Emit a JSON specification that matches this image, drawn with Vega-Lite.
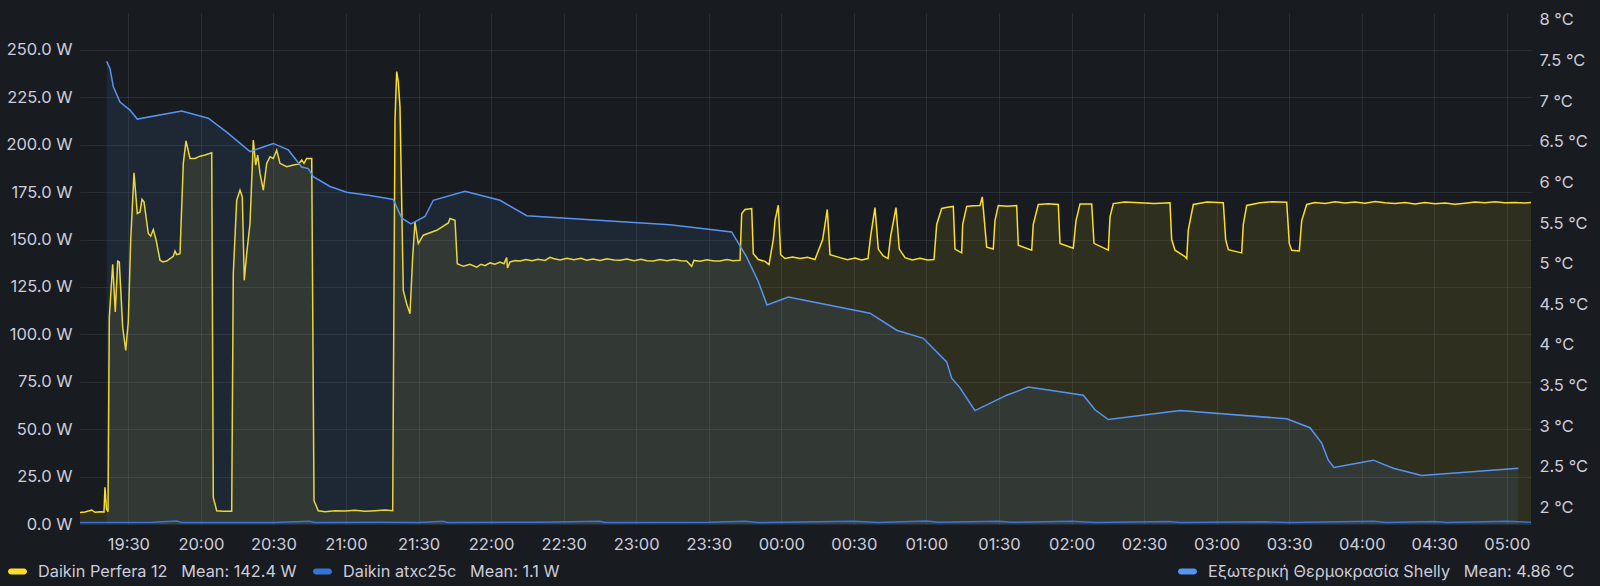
{
  "$schema": "https://vega.github.io/schema/vega-lite/v6.json",
  "width": 1451,
  "height": 511,
  "autosize": {"type": "none"},
  "padding": {"left": 80, "top": 13, "right": 69, "bottom": 62},
  "background": "#181b1f",
  "config": {
    "view": {"stroke": null},
    "font": "Inter",
    "axis": {"labelFont": "Inter", "labelFontSize": 16.5, "labelColor": "#ccccdc", "domain": false, "ticks": false, "tickSize": 0, "gridColor": "#ccccdc", "gridOpacity": 0.1, "title": null},
    "legend": {"labelFont": "Inter", "labelFontSize": 16.3, "labelColor": "#ccccdc", "padding": 0, "labelLimit": 600}
  },
  "datasets": {
    "power": [
      {"t": "2024-01-15T19:10:00Z", "s": "Daikin Perfera 12", "w": 6.1},
      {"t": "2024-01-15T19:12:04Z", "s": "Daikin Perfera 12", "w": 6.3},
      {"t": "2024-01-15T19:14:50Z", "s": "Daikin Perfera 12", "w": 7.4},
      {"t": "2024-01-15T19:16:12Z", "s": "Daikin Perfera 12", "w": 6.2},
      {"t": "2024-01-15T19:18:16Z", "s": "Daikin Perfera 12", "w": 6.4},
      {"t": "2024-01-15T19:19:55Z", "s": "Daikin Perfera 12", "w": 6.3},
      {"t": "2024-01-15T19:20:20Z", "s": "Daikin Perfera 12", "w": 19.3},
      {"t": "2024-01-15T19:20:57Z", "s": "Daikin Perfera 12", "w": 8},
      {"t": "2024-01-15T19:21:35Z", "s": "Daikin Perfera 12", "w": 6.5},
      {"t": "2024-01-15T19:22:07Z", "s": "Daikin Perfera 12", "w": 109},
      {"t": "2024-01-15T19:23:31Z", "s": "Daikin Perfera 12", "w": 137},
      {"t": "2024-01-15T19:24:36Z", "s": "Daikin Perfera 12", "w": 111.8},
      {"t": "2024-01-15T19:25:35Z", "s": "Daikin Perfera 12", "w": 138.6},
      {"t": "2024-01-15T19:26:15Z", "s": "Daikin Perfera 12", "w": 138.2},
      {"t": "2024-01-15T19:27:39Z", "s": "Daikin Perfera 12", "w": 103.9},
      {"t": "2024-01-15T19:28:54Z", "s": "Daikin Perfera 12", "w": 91.5},
      {"t": "2024-01-15T19:29:58Z", "s": "Daikin Perfera 12", "w": 106.5},
      {"t": "2024-01-15T19:30:58Z", "s": "Daikin Perfera 12", "w": 149.7},
      {"t": "2024-01-15T19:32:20Z", "s": "Daikin Perfera 12", "w": 185.2},
      {"t": "2024-01-15T19:33:42Z", "s": "Daikin Perfera 12", "w": 163.8},
      {"t": "2024-01-15T19:34:49Z", "s": "Daikin Perfera 12", "w": 164.6},
      {"t": "2024-01-15T19:35:38Z", "s": "Daikin Perfera 12", "w": 171.2},
      {"t": "2024-01-15T19:36:28Z", "s": "Daikin Perfera 12", "w": 169.9},
      {"t": "2024-01-15T19:38:15Z", "s": "Daikin Perfera 12", "w": 153.2},
      {"t": "2024-01-15T19:39:14Z", "s": "Daikin Perfera 12", "w": 151.8},
      {"t": "2024-01-15T19:40:19Z", "s": "Daikin Perfera 12", "w": 155.3},
      {"t": "2024-01-15T19:41:26Z", "s": "Daikin Perfera 12", "w": 150},
      {"t": "2024-01-15T19:43:05Z", "s": "Daikin Perfera 12", "w": 139.1},
      {"t": "2024-01-15T19:44:19Z", "s": "Daikin Perfera 12", "w": 138.2},
      {"t": "2024-01-15T19:45:51Z", "s": "Daikin Perfera 12", "w": 138.7},
      {"t": "2024-01-15T19:47:13Z", "s": "Daikin Perfera 12", "w": 140},
      {"t": "2024-01-15T19:48:35Z", "s": "Daikin Perfera 12", "w": 141.2},
      {"t": "2024-01-15T19:49:17Z", "s": "Daikin Perfera 12", "w": 144},
      {"t": "2024-01-15T19:49:59Z", "s": "Daikin Perfera 12", "w": 142.1},
      {"t": "2024-01-15T19:51:21Z", "s": "Daikin Perfera 12", "w": 142.6},
      {"t": "2024-01-15T19:52:43Z", "s": "Daikin Perfera 12", "w": 190.2},
      {"t": "2024-01-15T19:53:50Z", "s": "Daikin Perfera 12", "w": 202.1},
      {"t": "2024-01-15T19:55:29Z", "s": "Daikin Perfera 12", "w": 192.8},
      {"t": "2024-01-15T19:57:33Z", "s": "Daikin Perfera 12", "w": 192.8},
      {"t": "2024-01-15T19:59:37Z", "s": "Daikin Perfera 12", "w": 194},
      {"t": "2024-01-15T20:01:41Z", "s": "Daikin Perfera 12", "w": 194.6},
      {"t": "2024-01-15T20:04:28Z", "s": "Daikin Perfera 12", "w": 195.8},
      {"t": "2024-01-15T20:05:07Z", "s": "Daikin Perfera 12", "w": 14},
      {"t": "2024-01-15T20:06:32Z", "s": "Daikin Perfera 12", "w": 7},
      {"t": "2024-01-15T20:09:15Z", "s": "Daikin Perfera 12", "w": 6.7},
      {"t": "2024-01-15T20:12:44Z", "s": "Daikin Perfera 12", "w": 6.7},
      {"t": "2024-01-15T20:13:23Z", "s": "Daikin Perfera 12", "w": 132},
      {"t": "2024-01-15T20:14:48Z", "s": "Daikin Perfera 12", "w": 170.8},
      {"t": "2024-01-15T20:16:10Z", "s": "Daikin Perfera 12", "w": 176.1},
      {"t": "2024-01-15T20:17:07Z", "s": "Daikin Perfera 12", "w": 172.5},
      {"t": "2024-01-15T20:17:56Z", "s": "Daikin Perfera 12", "w": 128.5},
      {"t": "2024-01-15T20:18:56Z", "s": "Daikin Perfera 12", "w": 142.6},
      {"t": "2024-01-15T20:20:18Z", "s": "Daikin Perfera 12", "w": 158.5},
      {"t": "2024-01-15T20:21:40Z", "s": "Daikin Perfera 12", "w": 202.5},
      {"t": "2024-01-15T20:22:39Z", "s": "Daikin Perfera 12", "w": 189.3},
      {"t": "2024-01-15T20:23:29Z", "s": "Daikin Perfera 12", "w": 194.6},
      {"t": "2024-01-15T20:24:26Z", "s": "Daikin Perfera 12", "w": 184.9},
      {"t": "2024-01-15T20:25:48Z", "s": "Daikin Perfera 12", "w": 176.1},
      {"t": "2024-01-15T20:27:12Z", "s": "Daikin Perfera 12", "w": 190.2},
      {"t": "2024-01-15T20:28:34Z", "s": "Daikin Perfera 12", "w": 193.7},
      {"t": "2024-01-15T20:29:56Z", "s": "Daikin Perfera 12", "w": 192.8},
      {"t": "2024-01-15T20:31:20Z", "s": "Daikin Perfera 12", "w": 197.2},
      {"t": "2024-01-15T20:32:42Z", "s": "Daikin Perfera 12", "w": 190.2},
      {"t": "2024-01-15T20:35:28Z", "s": "Daikin Perfera 12", "w": 188.4},
      {"t": "2024-01-15T20:38:12Z", "s": "Daikin Perfera 12", "w": 189.3},
      {"t": "2024-01-15T20:40:16Z", "s": "Daikin Perfera 12", "w": 189.8},
      {"t": "2024-01-15T20:41:40Z", "s": "Daikin Perfera 12", "w": 192},
      {"t": "2024-01-15T20:42:37Z", "s": "Daikin Perfera 12", "w": 190.2},
      {"t": "2024-01-15T20:43:44Z", "s": "Daikin Perfera 12", "w": 192.8},
      {"t": "2024-01-15T20:45:49Z", "s": "Daikin Perfera 12", "w": 192.8},
      {"t": "2024-01-15T20:46:46Z", "s": "Daikin Perfera 12", "w": 12.3},
      {"t": "2024-01-15T20:48:32Z", "s": "Daikin Perfera 12", "w": 7},
      {"t": "2024-01-15T20:51:18Z", "s": "Daikin Perfera 12", "w": 6.5},
      {"t": "2024-01-15T20:55:27Z", "s": "Daikin Perfera 12", "w": 7},
      {"t": "2024-01-15T20:59:35Z", "s": "Daikin Perfera 12", "w": 6.8},
      {"t": "2024-01-15T21:03:43Z", "s": "Daikin Perfera 12", "w": 7.2},
      {"t": "2024-01-15T21:07:51Z", "s": "Daikin Perfera 12", "w": 6.7},
      {"t": "2024-01-15T21:11:59Z", "s": "Daikin Perfera 12", "w": 7},
      {"t": "2024-01-15T21:16:07Z", "s": "Daikin Perfera 12", "w": 7.4},
      {"t": "2024-01-15T21:19:18Z", "s": "Daikin Perfera 12", "w": 7},
      {"t": "2024-01-15T21:20:15Z", "s": "Daikin Perfera 12", "w": 213},
      {"t": "2024-01-15T21:20:57Z", "s": "Daikin Perfera 12", "w": 238.6},
      {"t": "2024-01-15T21:21:37Z", "s": "Daikin Perfera 12", "w": 233.3},
      {"t": "2024-01-15T21:22:19Z", "s": "Daikin Perfera 12", "w": 220},
      {"t": "2024-01-15T21:23:41Z", "s": "Daikin Perfera 12", "w": 123.2},
      {"t": "2024-01-15T21:25:05Z", "s": "Daikin Perfera 12", "w": 116.2},
      {"t": "2024-01-15T21:26:27Z", "s": "Daikin Perfera 12", "w": 110.9},
      {"t": "2024-01-15T21:27:34Z", "s": "Daikin Perfera 12", "w": 140.8},
      {"t": "2024-01-15T21:28:31Z", "s": "Daikin Perfera 12", "w": 159.3},
      {"t": "2024-01-15T21:29:53Z", "s": "Daikin Perfera 12", "w": 147.9},
      {"t": "2024-01-15T21:31:57Z", "s": "Daikin Perfera 12", "w": 152.3},
      {"t": "2024-01-15T21:37:30Z", "s": "Daikin Perfera 12", "w": 154.9},
      {"t": "2024-01-15T21:42:18Z", "s": "Daikin Perfera 12", "w": 158.8},
      {"t": "2024-01-15T21:43:00Z", "s": "Daikin Perfera 12", "w": 161.1},
      {"t": "2024-01-15T21:45:04Z", "s": "Daikin Perfera 12", "w": 160.2},
      {"t": "2024-01-15T21:46:01Z", "s": "Daikin Perfera 12", "w": 137.3},
      {"t": "2024-01-15T21:48:30Z", "s": "Daikin Perfera 12", "w": 135.9},
      {"t": "2024-01-15T21:51:16Z", "s": "Daikin Perfera 12", "w": 137},
      {"t": "2024-01-15T21:54:02Z", "s": "Daikin Perfera 12", "w": 135.5},
      {"t": "2024-01-15T21:55:49Z", "s": "Daikin Perfera 12", "w": 137},
      {"t": "2024-01-15T21:57:28Z", "s": "Daikin Perfera 12", "w": 136.2},
      {"t": "2024-01-15T21:59:32Z", "s": "Daikin Perfera 12", "w": 137.7},
      {"t": "2024-01-15T22:01:36Z", "s": "Daikin Perfera 12", "w": 137},
      {"t": "2024-01-15T22:03:40Z", "s": "Daikin Perfera 12", "w": 138.2},
      {"t": "2024-01-15T22:05:19Z", "s": "Daikin Perfera 12", "w": 137.3},
      {"t": "2024-01-15T22:06:26Z", "s": "Daikin Perfera 12", "w": 140.5},
      {"t": "2024-01-15T22:06:46Z", "s": "Daikin Perfera 12", "w": 135},
      {"t": "2024-01-15T22:07:48Z", "s": "Daikin Perfera 12", "w": 138.2},
      {"t": "2024-01-15T22:09:52Z", "s": "Daikin Perfera 12", "w": 138.9},
      {"t": "2024-01-15T22:11:57Z", "s": "Daikin Perfera 12", "w": 138.7},
      {"t": "2024-01-15T22:14:25Z", "s": "Daikin Perfera 12", "w": 139.5},
      {"t": "2024-01-15T22:16:54Z", "s": "Daikin Perfera 12", "w": 138.8},
      {"t": "2024-01-15T22:19:23Z", "s": "Daikin Perfera 12", "w": 139.6},
      {"t": "2024-01-15T22:22:17Z", "s": "Daikin Perfera 12", "w": 139},
      {"t": "2024-01-15T22:24:21Z", "s": "Daikin Perfera 12", "w": 140.6},
      {"t": "2024-01-15T22:25:43Z", "s": "Daikin Perfera 12", "w": 140},
      {"t": "2024-01-15T22:28:29Z", "s": "Daikin Perfera 12", "w": 139.3},
      {"t": "2024-01-15T22:31:22Z", "s": "Daikin Perfera 12", "w": 140.2},
      {"t": "2024-01-15T22:34:16Z", "s": "Daikin Perfera 12", "w": 139.4},
      {"t": "2024-01-15T22:37:10Z", "s": "Daikin Perfera 12", "w": 140.1},
      {"t": "2024-01-15T22:39:31Z", "s": "Daikin Perfera 12", "w": 139.1},
      {"t": "2024-01-15T22:42:08Z", "s": "Daikin Perfera 12", "w": 139.8},
      {"t": "2024-01-15T22:45:01Z", "s": "Daikin Perfera 12", "w": 139},
      {"t": "2024-01-15T22:47:55Z", "s": "Daikin Perfera 12", "w": 139.9},
      {"t": "2024-01-15T22:50:49Z", "s": "Daikin Perfera 12", "w": 139.2},
      {"t": "2024-01-15T22:53:17Z", "s": "Daikin Perfera 12", "w": 139.1},
      {"t": "2024-01-15T22:56:11Z", "s": "Daikin Perfera 12", "w": 139.8},
      {"t": "2024-01-15T22:59:05Z", "s": "Daikin Perfera 12", "w": 138.9},
      {"t": "2024-01-15T23:01:58Z", "s": "Daikin Perfera 12", "w": 139.6},
      {"t": "2024-01-15T23:04:27Z", "s": "Daikin Perfera 12", "w": 138.8},
      {"t": "2024-01-15T23:07:04Z", "s": "Daikin Perfera 12", "w": 138.7},
      {"t": "2024-01-15T23:09:50Z", "s": "Daikin Perfera 12", "w": 139.5},
      {"t": "2024-01-15T23:12:43Z", "s": "Daikin Perfera 12", "w": 138.9},
      {"t": "2024-01-15T23:15:37Z", "s": "Daikin Perfera 12", "w": 139.5},
      {"t": "2024-01-15T23:18:31Z", "s": "Daikin Perfera 12", "w": 138.8},
      {"t": "2024-01-15T23:20:52Z", "s": "Daikin Perfera 12", "w": 138.7},
      {"t": "2024-01-15T23:22:56Z", "s": "Daikin Perfera 12", "w": 135.9},
      {"t": "2024-01-15T23:23:53Z", "s": "Daikin Perfera 12", "w": 139},
      {"t": "2024-01-15T23:26:22Z", "s": "Daikin Perfera 12", "w": 138.6},
      {"t": "2024-01-15T23:29:16Z", "s": "Daikin Perfera 12", "w": 139.4},
      {"t": "2024-01-15T23:32:10Z", "s": "Daikin Perfera 12", "w": 138.7},
      {"t": "2024-01-15T23:34:38Z", "s": "Daikin Perfera 12", "w": 138.7},
      {"t": "2024-01-15T23:37:32Z", "s": "Daikin Perfera 12", "w": 139.5},
      {"t": "2024-01-15T23:40:01Z", "s": "Daikin Perfera 12", "w": 138.9},
      {"t": "2024-01-15T23:42:55Z", "s": "Daikin Perfera 12", "w": 139.1},
      {"t": "2024-01-15T23:43:37Z", "s": "Daikin Perfera 12", "w": 163.8},
      {"t": "2024-01-15T23:44:59Z", "s": "Daikin Perfera 12", "w": 165.9},
      {"t": "2024-01-15T23:47:45Z", "s": "Daikin Perfera 12", "w": 166.4},
      {"t": "2024-01-15T23:48:25Z", "s": "Daikin Perfera 12", "w": 142.6},
      {"t": "2024-01-15T23:50:29Z", "s": "Daikin Perfera 12", "w": 139.5},
      {"t": "2024-01-15T23:53:15Z", "s": "Daikin Perfera 12", "w": 138.5},
      {"t": "2024-01-15T23:54:54Z", "s": "Daikin Perfera 12", "w": 136.8},
      {"t": "2024-01-15T23:56:41Z", "s": "Daikin Perfera 12", "w": 150},
      {"t": "2024-01-15T23:57:23Z", "s": "Daikin Perfera 12", "w": 160},
      {"t": "2024-01-15T23:58:45Z", "s": "Daikin Perfera 12", "w": 168.1},
      {"t": "2024-01-15T23:59:44Z", "s": "Daikin Perfera 12", "w": 142},
      {"t": "2024-01-16T00:01:31Z", "s": "Daikin Perfera 12", "w": 140},
      {"t": "2024-01-16T00:04:40Z", "s": "Daikin Perfera 12", "w": 140.8},
      {"t": "2024-01-16T00:07:43Z", "s": "Daikin Perfera 12", "w": 140},
      {"t": "2024-01-16T00:10:50Z", "s": "Daikin Perfera 12", "w": 140.7},
      {"t": "2024-01-16T00:13:55Z", "s": "Daikin Perfera 12", "w": 139.5},
      {"t": "2024-01-16T00:17:06Z", "s": "Daikin Perfera 12", "w": 150},
      {"t": "2024-01-16T00:19:01Z", "s": "Daikin Perfera 12", "w": 165.9},
      {"t": "2024-01-16T00:20:08Z", "s": "Daikin Perfera 12", "w": 142},
      {"t": "2024-01-16T00:24:16Z", "s": "Daikin Perfera 12", "w": 140.5},
      {"t": "2024-01-16T00:27:20Z", "s": "Daikin Perfera 12", "w": 139.4},
      {"t": "2024-01-16T00:30:28Z", "s": "Daikin Perfera 12", "w": 140.3},
      {"t": "2024-01-16T00:33:10Z", "s": "Daikin Perfera 12", "w": 139.3},
      {"t": "2024-01-16T00:35:50Z", "s": "Daikin Perfera 12", "w": 140},
      {"t": "2024-01-16T00:36:57Z", "s": "Daikin Perfera 12", "w": 152},
      {"t": "2024-01-16T00:38:44Z", "s": "Daikin Perfera 12", "w": 166.9},
      {"t": "2024-01-16T00:40:06Z", "s": "Daikin Perfera 12", "w": 145},
      {"t": "2024-01-16T00:42:03Z", "s": "Daikin Perfera 12", "w": 141.5},
      {"t": "2024-01-16T00:44:07Z", "s": "Daikin Perfera 12", "w": 140},
      {"t": "2024-01-16T00:45:14Z", "s": "Daikin Perfera 12", "w": 152},
      {"t": "2024-01-16T00:47:25Z", "s": "Daikin Perfera 12", "w": 166.9},
      {"t": "2024-01-16T00:48:47Z", "s": "Daikin Perfera 12", "w": 145},
      {"t": "2024-01-16T00:51:09Z", "s": "Daikin Perfera 12", "w": 140.5},
      {"t": "2024-01-16T00:54:10Z", "s": "Daikin Perfera 12", "w": 139.2},
      {"t": "2024-01-16T00:57:21Z", "s": "Daikin Perfera 12", "w": 140.1},
      {"t": "2024-01-16T01:00:30Z", "s": "Daikin Perfera 12", "w": 139.2},
      {"t": "2024-01-16T01:03:08Z", "s": "Daikin Perfera 12", "w": 139.5},
      {"t": "2024-01-16T01:04:15Z", "s": "Daikin Perfera 12", "w": 158},
      {"t": "2024-01-16T01:06:19Z", "s": "Daikin Perfera 12", "w": 166.4},
      {"t": "2024-01-16T01:08:40Z", "s": "Daikin Perfera 12", "w": 167},
      {"t": "2024-01-16T01:11:07Z", "s": "Daikin Perfera 12", "w": 167.5},
      {"t": "2024-01-16T01:11:49Z", "s": "Daikin Perfera 12", "w": 145},
      {"t": "2024-01-16T01:14:35Z", "s": "Daikin Perfera 12", "w": 143},
      {"t": "2024-01-16T01:15:00Z", "s": "Daikin Perfera 12", "w": 158},
      {"t": "2024-01-16T01:16:39Z", "s": "Daikin Perfera 12", "w": 167.5},
      {"t": "2024-01-16T01:19:20Z", "s": "Daikin Perfera 12", "w": 167.8},
      {"t": "2024-01-16T01:22:09Z", "s": "Daikin Perfera 12", "w": 168},
      {"t": "2024-01-16T01:23:06Z", "s": "Daikin Perfera 12", "w": 172.5},
      {"t": "2024-01-16T01:24:55Z", "s": "Daikin Perfera 12", "w": 146},
      {"t": "2024-01-16T01:27:39Z", "s": "Daikin Perfera 12", "w": 145},
      {"t": "2024-01-16T01:28:21Z", "s": "Daikin Perfera 12", "w": 160},
      {"t": "2024-01-16T01:29:43Z", "s": "Daikin Perfera 12", "w": 168},
      {"t": "2024-01-16T01:33:30Z", "s": "Daikin Perfera 12", "w": 167.6},
      {"t": "2024-01-16T01:37:20Z", "s": "Daikin Perfera 12", "w": 168},
      {"t": "2024-01-16T01:37:59Z", "s": "Daikin Perfera 12", "w": 147},
      {"t": "2024-01-16T01:43:32Z", "s": "Daikin Perfera 12", "w": 144.4},
      {"t": "2024-01-16T01:44:11Z", "s": "Daikin Perfera 12", "w": 158},
      {"t": "2024-01-16T01:46:16Z", "s": "Daikin Perfera 12", "w": 168.5},
      {"t": "2024-01-16T01:50:20Z", "s": "Daikin Perfera 12", "w": 168.9},
      {"t": "2024-01-16T01:54:32Z", "s": "Daikin Perfera 12", "w": 168.5},
      {"t": "2024-01-16T01:55:14Z", "s": "Daikin Perfera 12", "w": 148},
      {"t": "2024-01-16T02:00:44Z", "s": "Daikin Perfera 12", "w": 145.5},
      {"t": "2024-01-16T02:01:51Z", "s": "Daikin Perfera 12", "w": 160},
      {"t": "2024-01-16T02:03:31Z", "s": "Daikin Perfera 12", "w": 168.8},
      {"t": "2024-01-16T02:08:21Z", "s": "Daikin Perfera 12", "w": 168.8},
      {"t": "2024-01-16T02:09:18Z", "s": "Daikin Perfera 12", "w": 148},
      {"t": "2024-01-16T02:15:13Z", "s": "Daikin Perfera 12", "w": 144.4},
      {"t": "2024-01-16T02:15:55Z", "s": "Daikin Perfera 12", "w": 162},
      {"t": "2024-01-16T02:17:17Z", "s": "Daikin Perfera 12", "w": 169},
      {"t": "2024-01-16T02:22:00Z", "s": "Daikin Perfera 12", "w": 169.8},
      {"t": "2024-01-16T02:28:19Z", "s": "Daikin Perfera 12", "w": 169.4},
      {"t": "2024-01-16T02:34:00Z", "s": "Daikin Perfera 12", "w": 169},
      {"t": "2024-01-16T02:40:43Z", "s": "Daikin Perfera 12", "w": 169.4},
      {"t": "2024-01-16T02:41:25Z", "s": "Daikin Perfera 12", "w": 150},
      {"t": "2024-01-16T02:42:48Z", "s": "Daikin Perfera 12", "w": 144.4},
      {"t": "2024-01-16T02:46:56Z", "s": "Daikin Perfera 12", "w": 141},
      {"t": "2024-01-16T02:47:38Z", "s": "Daikin Perfera 12", "w": 140},
      {"t": "2024-01-16T02:48:17Z", "s": "Daikin Perfera 12", "w": 155},
      {"t": "2024-01-16T02:50:21Z", "s": "Daikin Perfera 12", "w": 168.5},
      {"t": "2024-01-16T02:56:00Z", "s": "Daikin Perfera 12", "w": 169.8},
      {"t": "2024-01-16T03:02:46Z", "s": "Daikin Perfera 12", "w": 169.4},
      {"t": "2024-01-16T03:03:45Z", "s": "Daikin Perfera 12", "w": 150},
      {"t": "2024-01-16T03:04:50Z", "s": "Daikin Perfera 12", "w": 144.7},
      {"t": "2024-01-16T03:10:22Z", "s": "Daikin Perfera 12", "w": 143},
      {"t": "2024-01-16T03:11:02Z", "s": "Daikin Perfera 12", "w": 158},
      {"t": "2024-01-16T03:12:26Z", "s": "Daikin Perfera 12", "w": 168},
      {"t": "2024-01-16T03:18:00Z", "s": "Daikin Perfera 12", "w": 169.4},
      {"t": "2024-01-16T03:23:00Z", "s": "Daikin Perfera 12", "w": 170},
      {"t": "2024-01-16T03:28:59Z", "s": "Daikin Perfera 12", "w": 169.7},
      {"t": "2024-01-16T03:30:03Z", "s": "Daikin Perfera 12", "w": 148},
      {"t": "2024-01-16T03:31:03Z", "s": "Daikin Perfera 12", "w": 144.4},
      {"t": "2024-01-16T03:34:11Z", "s": "Daikin Perfera 12", "w": 144},
      {"t": "2024-01-16T03:35:11Z", "s": "Daikin Perfera 12", "w": 160},
      {"t": "2024-01-16T03:37:15Z", "s": "Daikin Perfera 12", "w": 168.5},
      {"t": "2024-01-16T03:40:40Z", "s": "Daikin Perfera 12", "w": 169.5},
      {"t": "2024-01-16T03:44:48Z", "s": "Daikin Perfera 12", "w": 169},
      {"t": "2024-01-16T03:48:57Z", "s": "Daikin Perfera 12", "w": 170},
      {"t": "2024-01-16T03:53:05Z", "s": "Daikin Perfera 12", "w": 169.3},
      {"t": "2024-01-16T03:57:13Z", "s": "Daikin Perfera 12", "w": 169.8},
      {"t": "2024-01-16T04:01:21Z", "s": "Daikin Perfera 12", "w": 169.2},
      {"t": "2024-01-16T04:05:29Z", "s": "Daikin Perfera 12", "w": 170.1},
      {"t": "2024-01-16T04:09:37Z", "s": "Daikin Perfera 12", "w": 169.4},
      {"t": "2024-01-16T04:13:45Z", "s": "Daikin Perfera 12", "w": 169},
      {"t": "2024-01-16T04:17:53Z", "s": "Daikin Perfera 12", "w": 169.6},
      {"t": "2024-01-16T04:22:01Z", "s": "Daikin Perfera 12", "w": 168.8},
      {"t": "2024-01-16T04:26:09Z", "s": "Daikin Perfera 12", "w": 169.5},
      {"t": "2024-01-16T04:30:18Z", "s": "Daikin Perfera 12", "w": 168.9},
      {"t": "2024-01-16T04:34:26Z", "s": "Daikin Perfera 12", "w": 169.3},
      {"t": "2024-01-16T04:38:34Z", "s": "Daikin Perfera 12", "w": 168.6},
      {"t": "2024-01-16T04:42:42Z", "s": "Daikin Perfera 12", "w": 169.2},
      {"t": "2024-01-16T04:46:50Z", "s": "Daikin Perfera 12", "w": 169.8},
      {"t": "2024-01-16T04:50:58Z", "s": "Daikin Perfera 12", "w": 169.4},
      {"t": "2024-01-16T04:55:06Z", "s": "Daikin Perfera 12", "w": 169.9},
      {"t": "2024-01-16T04:59:14Z", "s": "Daikin Perfera 12", "w": 169.4},
      {"t": "2024-01-16T05:03:22Z", "s": "Daikin Perfera 12", "w": 169.6},
      {"t": "2024-01-16T05:07:30Z", "s": "Daikin Perfera 12", "w": 169.3},
      {"t": "2024-01-16T05:10:00Z", "s": "Daikin Perfera 12", "w": 169.5},
      {"t": "2024-01-15T19:10:00Z", "s": "Daikin atxc25c", "w": 0.8},
      {"t": "2024-01-15T19:40:00Z", "s": "Daikin atxc25c", "w": 0.9},
      {"t": "2024-01-15T19:50:00Z", "s": "Daikin atxc25c", "w": 1.6},
      {"t": "2024-01-15T19:52:00Z", "s": "Daikin atxc25c", "w": 0.8},
      {"t": "2024-01-15T20:30:00Z", "s": "Daikin atxc25c", "w": 0.8},
      {"t": "2024-01-15T20:45:00Z", "s": "Daikin atxc25c", "w": 1.5},
      {"t": "2024-01-15T20:47:00Z", "s": "Daikin atxc25c", "w": 0.8},
      {"t": "2024-01-15T21:15:00Z", "s": "Daikin atxc25c", "w": 0.9},
      {"t": "2024-01-15T21:30:00Z", "s": "Daikin atxc25c", "w": 0.8},
      {"t": "2024-01-15T21:40:00Z", "s": "Daikin atxc25c", "w": 1.4},
      {"t": "2024-01-15T21:42:00Z", "s": "Daikin atxc25c", "w": 0.8},
      {"t": "2024-01-15T22:20:00Z", "s": "Daikin atxc25c", "w": 0.9},
      {"t": "2024-01-15T22:45:00Z", "s": "Daikin atxc25c", "w": 1.5},
      {"t": "2024-01-15T22:47:00Z", "s": "Daikin atxc25c", "w": 0.8},
      {"t": "2024-01-15T23:30:00Z", "s": "Daikin atxc25c", "w": 0.9},
      {"t": "2024-01-15T23:45:00Z", "s": "Daikin atxc25c", "w": 1.5},
      {"t": "2024-01-15T23:50:00Z", "s": "Daikin atxc25c", "w": 0.8},
      {"t": "2024-01-16T00:30:00Z", "s": "Daikin atxc25c", "w": 1.4},
      {"t": "2024-01-16T00:40:00Z", "s": "Daikin atxc25c", "w": 0.8},
      {"t": "2024-01-16T01:00:00Z", "s": "Daikin atxc25c", "w": 1.6},
      {"t": "2024-01-16T01:05:00Z", "s": "Daikin atxc25c", "w": 0.9},
      {"t": "2024-01-16T01:30:00Z", "s": "Daikin atxc25c", "w": 1.5},
      {"t": "2024-01-16T01:35:00Z", "s": "Daikin atxc25c", "w": 0.9},
      {"t": "2024-01-16T02:00:00Z", "s": "Daikin atxc25c", "w": 1.4},
      {"t": "2024-01-16T02:10:00Z", "s": "Daikin atxc25c", "w": 0.8},
      {"t": "2024-01-16T02:40:00Z", "s": "Daikin atxc25c", "w": 1.3},
      {"t": "2024-01-16T02:45:00Z", "s": "Daikin atxc25c", "w": 0.8},
      {"t": "2024-01-16T03:20:00Z", "s": "Daikin atxc25c", "w": 1.2},
      {"t": "2024-01-16T03:30:00Z", "s": "Daikin atxc25c", "w": 0.8},
      {"t": "2024-01-16T04:05:00Z", "s": "Daikin atxc25c", "w": 1.5},
      {"t": "2024-01-16T04:10:00Z", "s": "Daikin atxc25c", "w": 0.8},
      {"t": "2024-01-16T04:30:00Z", "s": "Daikin atxc25c", "w": 1.3},
      {"t": "2024-01-16T04:35:00Z", "s": "Daikin atxc25c", "w": 0.8},
      {"t": "2024-01-16T05:00:00Z", "s": "Daikin atxc25c", "w": 1.4},
      {"t": "2024-01-16T05:10:00Z", "s": "Daikin atxc25c", "w": 0.9}
    ],
    "temp": [
      {"t": "2024-01-15T19:21:02Z", "s": "Εξωτερική Θερμοκρασία Shelly", "c": 7.49},
      {"t": "2024-01-15T19:22:25Z", "s": "Εξωτερική Θερμοκρασία Shelly", "c": 7.40},
      {"t": "2024-01-15T19:23:46Z", "s": "Εξωτερική Θερμοκρασία Shelly", "c": 7.18},
      {"t": "2024-01-15T19:26:32Z", "s": "Εξωτερική Θερμοκρασία Shelly", "c": 6.99},
      {"t": "2024-01-15T19:30:41Z", "s": "Εξωτερική Θερμοκρασία Shelly", "c": 6.89},
      {"t": "2024-01-15T19:33:41Z", "s": "Εξωτερική Θερμοκρασία Shelly", "c": 6.78},
      {"t": "2024-01-15T19:52:03Z", "s": "Εξωτερική Θερμοκρασία Shelly", "c": 6.88},
      {"t": "2024-01-15T20:03:03Z", "s": "Εξωτερική Θερμοκρασία Shelly", "c": 6.79},
      {"t": "2024-01-15T20:10:40Z", "s": "Εξωτερική Θερμοκρασία Shelly", "c": 6.62},
      {"t": "2024-01-15T20:20:18Z", "s": "Εξωτερική Θερμοκρασία Shelly", "c": 6.38},
      {"t": "2024-01-15T20:29:56Z", "s": "Εξωτερική Θερμοκρασία Shelly", "c": 6.48},
      {"t": "2024-01-15T20:36:08Z", "s": "Εξωτερική Θερμοκρασία Shelly", "c": 6.40},
      {"t": "2024-01-15T20:41:41Z", "s": "Εξωτερική Θερμοκρασία Shelly", "c": 6.19},
      {"t": "2024-01-15T20:44:24Z", "s": "Εξωτερική Θερμοκρασία Shelly", "c": 6.17},
      {"t": "2024-01-15T20:46:28Z", "s": "Εξωτερική Θερμοκρασία Shelly", "c": 6.07},
      {"t": "2024-01-15T20:53:23Z", "s": "Εξωτερική Θερμοκρασία Shelly", "c": 5.95},
      {"t": "2024-01-15T21:00:17Z", "s": "Εξωτερική Θερμοκρασία Shelly", "c": 5.88},
      {"t": "2024-01-15T21:09:55Z", "s": "Εξωτερική Θερμοκρασία Shelly", "c": 5.84},
      {"t": "2024-01-15T21:19:33Z", "s": "Εξωτερική Θερμοκρασία Shelly", "c": 5.79},
      {"t": "2024-01-15T21:23:02Z", "s": "Εξωτερική Θερμοκρασία Shelly", "c": 5.56},
      {"t": "2024-01-15T21:26:52Z", "s": "Εξωτερική Θερμοκρασία Shelly", "c": 5.49},
      {"t": "2024-01-15T21:32:40Z", "s": "Εξωτερική Θερμοκρασία Shelly", "c": 5.58},
      {"t": "2024-01-15T21:36:05Z", "s": "Εξωτερική Θερμοκρασία Shelly", "c": 5.78},
      {"t": "2024-01-15T21:49:12Z", "s": "Εξωτερική Θερμοκρασία Shelly", "c": 5.89},
      {"t": "2024-01-15T22:03:40Z", "s": "Εξωτερική Θερμοκρασία Shelly", "c": 5.78},
      {"t": "2024-01-15T22:14:43Z", "s": "Εξωτερική Θερμοκρασία Shelly", "c": 5.59},
      {"t": "2024-01-15T23:13:58Z", "s": "Εξωτερική Θερμοκρασία Shelly", "c": 5.48},
      {"t": "2024-01-15T23:39:29Z", "s": "Εξωτερική Θερμοκρασία Shelly", "c": 5.39},
      {"t": "2024-01-15T23:45:41Z", "s": "Εξωτερική Θερμοκρασία Shelly", "c": 5.08},
      {"t": "2024-01-15T23:50:29Z", "s": "Εξωτερική Θερμοκρασία Shelly", "c": 4.78},
      {"t": "2024-01-15T23:54:05Z", "s": "Εξωτερική Θερμοκρασία Shelly", "c": 4.49},
      {"t": "2024-01-16T00:02:53Z", "s": "Εξωτερική Θερμοκρασία Shelly", "c": 4.59},
      {"t": "2024-01-16T00:36:40Z", "s": "Εξωτερική Θερμοκρασία Shelly", "c": 4.39},
      {"t": "2024-01-16T00:47:43Z", "s": "Εξωτερική Θερμοκρασία Shelly", "c": 4.18},
      {"t": "2024-01-16T00:58:43Z", "s": "Εξωτερική Θερμοκρασία Shelly", "c": 4.08},
      {"t": "2024-01-16T01:08:23Z", "s": "Εξωτερική Θερμοκρασία Shelly", "c": 3.79},
      {"t": "2024-01-16T01:10:28Z", "s": "Εξωτερική Θερμοκρασία Shelly", "c": 3.59},
      {"t": "2024-01-16T01:13:53Z", "s": "Εξωτερική Θερμοκρασία Shelly", "c": 3.47},
      {"t": "2024-01-16T01:20:05Z", "s": "Εξωτερική Θερμοκρασία Shelly", "c": 3.19},
      {"t": "2024-01-16T01:33:12Z", "s": "Εξωτερική Θερμοκρασία Shelly", "c": 3.38},
      {"t": "2024-01-16T01:42:08Z", "s": "Εξωτερική Θερμοκρασία Shelly", "c": 3.48},
      {"t": "2024-01-16T02:04:53Z", "s": "Εξωτερική Θερμοκρασία Shelly", "c": 3.38},
      {"t": "2024-01-16T02:09:43Z", "s": "Εξωτερική Θερμοκρασία Shelly", "c": 3.20},
      {"t": "2024-01-16T02:15:13Z", "s": "Εξωτερική Θερμοκρασία Shelly", "c": 3.08},
      {"t": "2024-01-16T02:44:52Z", "s": "Εξωτερική Θερμοκρασία Shelly", "c": 3.19},
      {"t": "2024-01-16T03:28:59Z", "s": "Εξωτερική Θερμοκρασία Shelly", "c": 3.09},
      {"t": "2024-01-16T03:38:37Z", "s": "Εξωτερική Θερμοκρασία Shelly", "c": 2.98},
      {"t": "2024-01-16T03:43:28Z", "s": "Εξωτερική Θερμοκρασία Shelly", "c": 2.79},
      {"t": "2024-01-16T03:46:11Z", "s": "Εξωτερική Θερμοκρασία Shelly", "c": 2.58},
      {"t": "2024-01-16T03:48:32Z", "s": "Εξωτερική Θερμοκρασία Shelly", "c": 2.49},
      {"t": "2024-01-16T04:04:47Z", "s": "Εξωτερική Θερμοκρασία Shelly", "c": 2.58},
      {"t": "2024-01-16T04:13:04Z", "s": "Εξωτερική Θερμοκρασία Shelly", "c": 2.48},
      {"t": "2024-01-16T04:24:49Z", "s": "Εξωτερική Θερμοκρασία Shelly", "c": 2.39},
      {"t": "2024-01-16T05:04:45Z", "s": "Εξωτερική Θερμοκρασία Shelly", "c": 2.48}
    ]
  },
  "layer": [
    {
      "data": {"name": "power"},
      "encoding": {
        "x": {
          "field": "t", "type": "temporal",
          "scale": {"type": "utc", "domain": [{"year": 2024, "month": 1, "date": 15, "hours": 19, "minutes": 10, "utc": true}, {"year": 2024, "month": 1, "date": 16, "hours": 5, "minutes": 10, "utc": true}]},
          "axis": {
            "orient": "bottom", "format": "%H:%M", "labelPadding": 12, "labelOverlap": false, "labelFlush": false, "grid": true, "title": null,
            "values": [
              {"year": 2024, "month": 1, "date": 15, "hours": 19, "minutes": 30, "utc": true},
              {"year": 2024, "month": 1, "date": 15, "hours": 20, "minutes": 0, "utc": true},
              {"year": 2024, "month": 1, "date": 15, "hours": 20, "minutes": 30, "utc": true},
              {"year": 2024, "month": 1, "date": 15, "hours": 21, "minutes": 0, "utc": true},
              {"year": 2024, "month": 1, "date": 15, "hours": 21, "minutes": 30, "utc": true},
              {"year": 2024, "month": 1, "date": 15, "hours": 22, "minutes": 0, "utc": true},
              {"year": 2024, "month": 1, "date": 15, "hours": 22, "minutes": 30, "utc": true},
              {"year": 2024, "month": 1, "date": 15, "hours": 23, "minutes": 0, "utc": true},
              {"year": 2024, "month": 1, "date": 15, "hours": 23, "minutes": 30, "utc": true},
              {"year": 2024, "month": 1, "date": 16, "hours": 0, "minutes": 0, "utc": true},
              {"year": 2024, "month": 1, "date": 16, "hours": 0, "minutes": 30, "utc": true},
              {"year": 2024, "month": 1, "date": 16, "hours": 1, "minutes": 0, "utc": true},
              {"year": 2024, "month": 1, "date": 16, "hours": 1, "minutes": 30, "utc": true},
              {"year": 2024, "month": 1, "date": 16, "hours": 2, "minutes": 0, "utc": true},
              {"year": 2024, "month": 1, "date": 16, "hours": 2, "minutes": 30, "utc": true},
              {"year": 2024, "month": 1, "date": 16, "hours": 3, "minutes": 0, "utc": true},
              {"year": 2024, "month": 1, "date": 16, "hours": 3, "minutes": 30, "utc": true},
              {"year": 2024, "month": 1, "date": 16, "hours": 4, "minutes": 0, "utc": true},
              {"year": 2024, "month": 1, "date": 16, "hours": 4, "minutes": 30, "utc": true},
              {"year": 2024, "month": 1, "date": 16, "hours": 5, "minutes": 0, "utc": true}
            ]
          }
        },
        "y": {
          "field": "w", "type": "quantitative", "stack": null,
          "scale": {"domain": [0, 269.5], "nice": false, "zero": false},
          "axis": {"orient": "left", "values": [0, 25, 50, 75, 100, 125, 150, 175, 200, 225, 250], "labelExpr": "format(datum.value, '.1f') + ' W'", "labelPadding": 8, "grid": true, "title": null}
        },
        "color": {
          "field": "s", "type": "nominal",
          "scale": {"domain": ["Daikin Perfera 12", "Daikin atxc25c"], "range": ["#FADE2A", "#3274D9"]},
          "legend": {
            "orient": "none", "legendX": -72, "legendY": 549, "direction": "horizontal", "title": null,
            "symbolType": "M-0.684,-0.316H0.684A0.316,0.316 0 0 1 0.684,0.316H-0.684A0.316,0.316 0 0 1 -0.684,-0.316Z",
            "symbolSize": 361, "labelOffset": 11, "columnPadding": 16, "labelLimit": 600,
            "labelExpr": "datum.label == 'Daikin Perfera 12' ? 'Daikin Perfera 12\u00a0\u00a0\u00a0Mean: 142.4 W' : 'Daikin atxc25c\u00a0\u00a0\u00a0Mean: 1.1 W'",
            "encode": {"symbols": {"update": {"fillOpacity": {"value": 1}, "opacity": {"value": 1}, "strokeWidth": {"value": 0}}}}
          }
        }
      },
      "layer": [
        {"mark": {"type": "area", "fillOpacity": 0.1, "clip": true}},
        {"mark": {"type": "line", "strokeWidth": 1.5, "clip": true}}
      ]
    },
    {
      "data": {"name": "temp"},
      "encoding": {
        "x": {"field": "t", "type": "temporal"},
        "y": {
          "field": "c", "type": "quantitative",
          "scale": {"domain": [1.794, 8.086], "nice": false, "zero": false},
          "axis": {"orient": "right", "values": [2, 2.5, 3, 3.5, 4, 4.5, 5, 5.5, 6, 6.5, 7, 7.5, 8], "labelExpr": "datum.value + ' °C'", "labelPadding": 8, "grid": false, "title": null}
        },
        "color": {
          "field": "s", "type": "nominal",
          "scale": {"domain": ["Εξωτερική Θερμοκρασία Shelly"], "range": ["#5794F2"]},
          "legend": {
            "orient": "none", "legendX": 1098, "legendY": 549, "direction": "horizontal", "title": null,
            "symbolType": "M-0.684,-0.316H0.684A0.316,0.316 0 0 1 0.684,0.316H-0.684A0.316,0.316 0 0 1 -0.684,-0.316Z",
            "symbolSize": 361, "labelOffset": 11, "labelLimit": 600,
            "labelExpr": "datum.label + '\u00a0\u00a0\u00a0Mean: 4.86 °C'",
            "encode": {"symbols": {"update": {"fillOpacity": {"value": 1}, "opacity": {"value": 1}, "strokeWidth": {"value": 0}}}}
          }
        }
      },
      "layer": [
        {"mark": {"type": "area", "fillOpacity": 0.1, "clip": true}},
        {"mark": {"type": "line", "strokeWidth": 1.5, "clip": true}}
      ]
    }
  ],
  "resolve": {"scale": {"y": "independent", "color": "independent"}}
}
